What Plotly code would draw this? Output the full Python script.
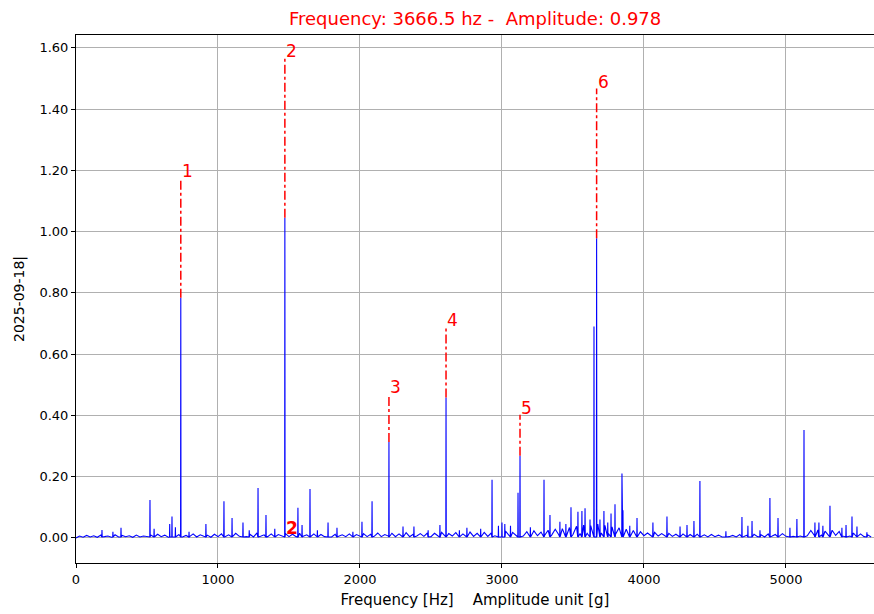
import plotly.graph_objects as go

# ---- data ----
floor_freq = list(range(0, 5625, 25))
floor_amp = [
    0.000, 0.006, 0.002, 0.008, 0.003, 0.007, 0.002, 0.009, 0.004, 0.006, 0.002, 0.010, 0.003, 0.008, 0.004, 0.007, 0.002, 0.009, 0.003, 0.006, 0.004,
    0.010, 0.003, 0.012, 0.004, 0.009, 0.002, 0.014, 0.005, 0.011, 0.003, 0.008, 0.004, 0.013, 0.003, 0.010, 0.005, 0.009, 0.002, 0.012, 0.004,
    0.013, 0.004, 0.010, 0.003, 0.015, 0.005, 0.011, 0.004, 0.012, 0.003, 0.016, 0.005, 0.010, 0.004, 0.013, 0.003, 0.011, 0.006, 0.014, 0.004,
    0.012, 0.004, 0.015, 0.005, 0.010, 0.003, 0.013, 0.005, 0.011, 0.004, 0.014, 0.003, 0.012, 0.005, 0.010, 0.004, 0.013, 0.003, 0.011, 0.005,
    0.014, 0.004, 0.012, 0.005, 0.016, 0.004, 0.011, 0.006, 0.015, 0.004, 0.013, 0.005, 0.017, 0.004, 0.012, 0.006, 0.014, 0.005, 0.016, 0.004,
    0.015, 0.006, 0.018, 0.005, 0.014, 0.006, 0.017, 0.005, 0.013, 0.007, 0.019, 0.005, 0.015, 0.006, 0.018, 0.005, 0.016, 0.007, 0.020, 0.006,
    0.022, 0.007, 0.018, 0.008, 0.024, 0.006, 0.020, 0.009, 0.023, 0.007, 0.019, 0.008, 0.025, 0.009, 0.028, 0.010, 0.030, 0.012, 0.034, 0.011,
    0.038, 0.014, 0.042, 0.015, 0.040, 0.013, 0.045, 0.016, 0.041, 0.014, 0.036, 0.012, 0.033, 0.011, 0.028, 0.009, 0.024, 0.008, 0.020, 0.007,
    0.016, 0.005, 0.018, 0.006, 0.014, 0.004, 0.015, 0.005, 0.012, 0.004, 0.013, 0.005, 0.011, 0.003, 0.012, 0.004, 0.010, 0.003, 0.011, 0.004,
    0.009, 0.003, 0.010, 0.004, 0.008, 0.003, 0.011, 0.004, 0.009, 0.003, 0.012, 0.004, 0.010, 0.003, 0.013, 0.005, 0.011, 0.004, 0.014, 0.005,
    0.015, 0.005, 0.018, 0.006, 0.020, 0.007, 0.024, 0.008, 0.026, 0.009, 0.022, 0.007, 0.025, 0.008, 0.021, 0.006, 0.019, 0.006, 0.016, 0.005,
    0.013, 0.004, 0.010, 0.003,
]

peak_freq = [183, 260, 317, 521, 550, 660, 676, 700, 738, 796, 915, 1042, 1099, 1176, 1220,
             1282, 1338, 1400, 1471, 1563, 1592, 1648, 1700, 1775, 1838, 1950, 2014, 2085,
             2204, 2303, 2380, 2480, 2563, 2606, 2700, 2753, 2850, 2930, 2975, 3000, 3020,
             3060, 3113, 3127, 3200, 3296, 3338, 3408, 3450, 3486, 3535, 3563, 3585, 3620,
             3648, 3666.5, 3690, 3718, 3745, 3768, 3796, 3845, 3852, 3900, 3951, 4063, 4162,
             4254, 4303, 4352, 4394, 4577, 4690, 4732, 4761, 4817, 4887, 4944, 5028, 5077,
             5127, 5204, 5232, 5260, 5310, 5394, 5423, 5465, 5500, 5570]
peak_amp = [0.026, 0.020, 0.033, 0.124, 0.030, 0.045, 0.070, 0.035, 0.784, 0.020, 0.045, 0.120,
            0.065, 0.050, 0.025, 0.163, 0.075, 0.030, 1.045, 0.098, 0.042, 0.160, 0.025, 0.050,
            0.033, 0.020, 0.053, 0.120, 0.313, 0.037, 0.037, 0.025, 0.042, 0.458, 0.025, 0.033,
            0.030, 0.190, 0.040, 0.050, 0.045, 0.040, 0.147, 0.268, 0.035, 0.190, 0.075, 0.053,
            0.045, 0.100, 0.085, 0.088, 0.097, 0.060, 0.690, 0.978, 0.060, 0.088, 0.050, 0.080,
            0.110, 0.210, 0.090, 0.040, 0.065, 0.050, 0.070, 0.037, 0.042, 0.055, 0.186, 0.022,
            0.068, 0.040, 0.055, 0.025, 0.130, 0.065, 0.033, 0.062, 0.352, 0.050, 0.050, 0.040,
            0.105, 0.033, 0.042, 0.070, 0.037, 0.018]

marker_freq = [738, 1471, 2204, 2606, 3127, 3666.5]
marker_amp = [0.784, 1.045, 0.313, 0.458, 0.268, 0.978]
marker_label = ["1", "2", "3", "4", "5", "6"]

x_ticks = [0, 1000, 2000, 3000, 4000, 5000]
y_ticks = [0.0, 0.2, 0.4, 0.6, 0.8, 1.0, 1.2, 1.4, 1.6]

title_text = "Frequency: 3666.5 hz -&nbsp; Amplitude: 0.978"
x_title = "Frequency [Hz]&nbsp;&nbsp;&nbsp; Amplitude unit [g]"
y_title = "2025-09-18|"

# ---- build spectrum series ----
pts = []
for f, a in zip(floor_freq, floor_amp):
    if all(abs(f - p) > 3 for p in peak_freq):
        pts.append((f, a))
for f, a in zip(peak_freq, peak_amp):
    pts.append((f - 1.5, 0.003))
    pts.append((f, a))
    pts.append((f + 1.5, 0.003))
pts.sort()
sx = [p[0] for p in pts]
sy = [p[1] for p in pts]

FONT = "DejaVu Sans"
fig = go.Figure()
fig.add_trace(go.Scatter(x=sx, y=sy, mode="lines",
                         line=dict(color="blue", width=1.1), hoverinfo="skip"))

for f, a, lab in zip(marker_freq, marker_amp, marker_label):
    fig.add_trace(go.Scatter(x=[f, f], y=[a, a * 1.5], mode="lines",
                             line=dict(color="red", width=1.5, dash="dashdot"),
                             hoverinfo="skip"))
    fig.add_annotation(x=f, y=a * 1.5, text=lab, showarrow=False,
                       xanchor="left", yanchor="bottom", yshift=-5, xshift=-1,
                       font=dict(family=FONT, size=17, color="red"))

# stray label near the base of peak 2
fig.add_annotation(x=marker_freq[1], y=0.0, text="<b>2</b>", showarrow=False,
                   xanchor="left", yanchor="bottom", yshift=-2, xshift=-1,
                   font=dict(family=FONT, size=17, color="red"))

fig.add_annotation(x=0.5, y=1, xref="paper", yref="paper", text=title_text,
                   showarrow=False, yanchor="bottom", yshift=4,
                   font=dict(family=FONT, size=18, color="red"))

fig.update_layout(
    width=874, height=614,
    margin=dict(l=76, r=0, t=35, b=51),
    plot_bgcolor="white", paper_bgcolor="white",
    showlegend=False,
    font=dict(family=FONT, size=13, color="black"),
    xaxis=dict(range=[0, 5620], tickvals=x_ticks, ticktext=[str(v) for v in x_ticks],
               showgrid=True, gridcolor="#b0b0b0", gridwidth=1,
               showline=True, linecolor="black", linewidth=1, mirror=True,
               ticks="outside", ticklen=4, tickcolor="black", zeroline=False,
               title=dict(text=x_title, standoff=8, font=dict(size=15))),
    yaxis=dict(range=[-0.082, 1.642], tickvals=y_ticks, tickformat=".2f",
               showgrid=True, gridcolor="#b0b0b0", gridwidth=1,
               showline=True, linecolor="black", linewidth=1,
               ticks="outside", ticklen=4, tickcolor="black", zeroline=False,
               title=dict(text=y_title, standoff=11, font=dict(size=14))),
)

fig.write_html("out.html")
